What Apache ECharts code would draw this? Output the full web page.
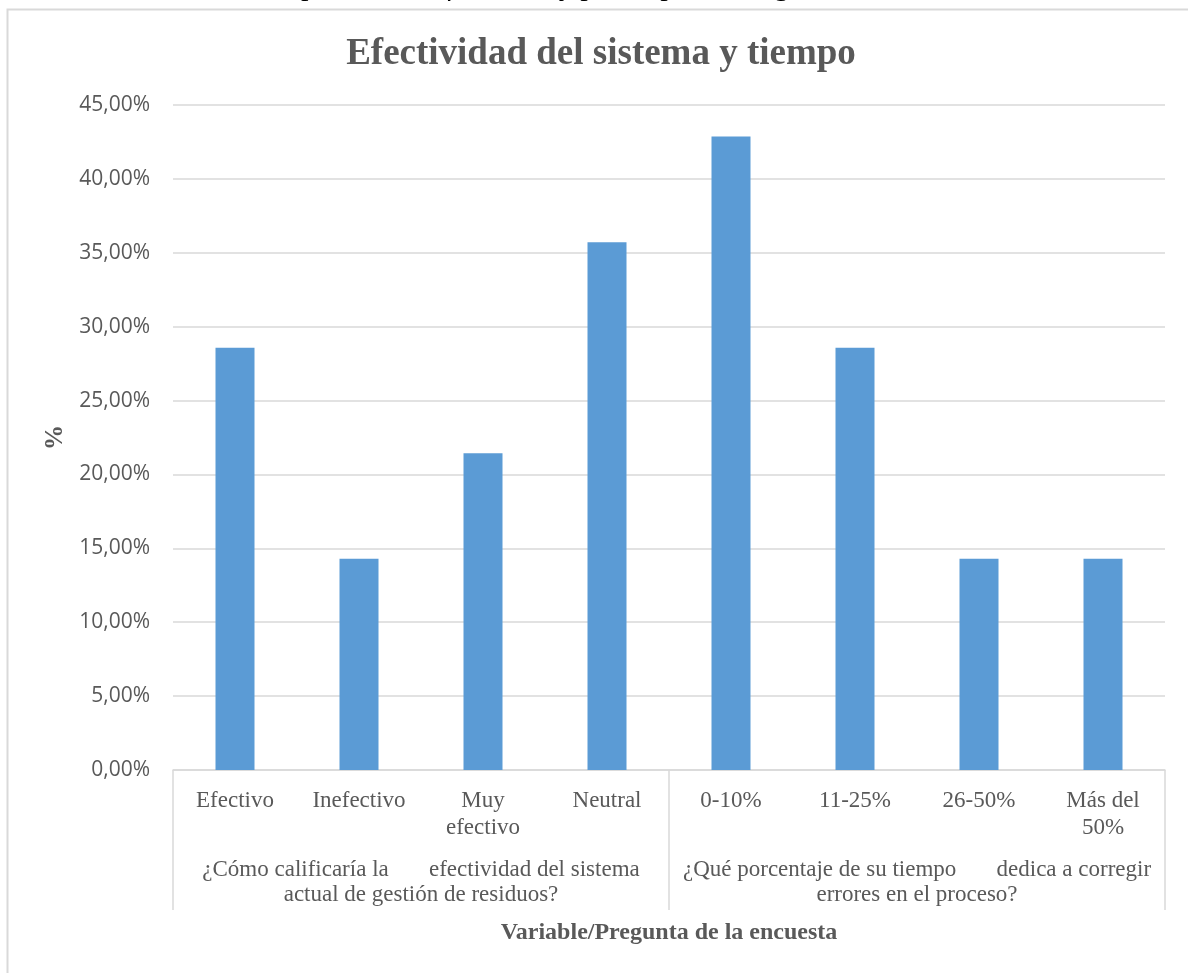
<!DOCTYPE html>
<html>
<head>
<meta charset="utf-8">
<script src="https://cdn.jsdelivr.net/npm/echarts@6/dist/echarts.min.js"></script>
<style>
  html, body { margin: 0; padding: 0; background: #ffffff; }
  #chart { width: 1188px; height: 973px; }
</style>
</head>
<body>
<div id="chart"></div>
<script>
// Survey answers (first level of the category axis)
const categories = ['Efectivo', 'Inefectivo', 'Muy\nefectivo', 'Neutral', '0-10%', '11-25%', '26-50%', 'Más del\n50%'];
// Share of respondents per answer, in %
const values = [28.57, 14.29, 21.43, 35.71, 42.86, 28.57, 14.29, 14.29];
// Survey questions (second level of the category axis)
const questions = [
  '¿Cómo calificaría la       efectividad del sistema\nactual de gestión de residuos?',
  '¿Qué porcentaje de su tiempo       dedica a corregir\nerrores en el proceso?'
];
// Value axis range and step
const yMin = 0, yMax = 45, yStep = 5;

const grey = '#595959';
const gridGrey = '#d9d9d9';
const serif = '"Liberation Serif", "Times New Roman", serif';
const sans = '"Open Sans", "Noto Sans", sans-serif';

const chart = echarts.init(document.getElementById('chart'));
chart.setOption({
  animation: false,
  backgroundColor: '#ffffff',
  title: {
    text: 'Efectividad del sistema y tiempo',
    left: 596,
    textAlign: 'center',
    top: 31,
    textStyle: { fontFamily: serif, fontWeight: 'bold', fontSize: 37, color: grey }
  },
  graphic: [
    {
      type: 'rect',
      z: -10,
      silent: true,
      shape: { x: 7.5, y: 9.5, width: 1300, height: 1100 },
      style: { fill: 'none', stroke: gridGrey, lineWidth: 2 }
    },
    {
      type: 'text',
      silent: true,
      x: -70,
      y: -28,
      style: {
        text: 'Estadísticas de variables de impacto total, formatos y participación según resultados de la encuesta',
        font: 'italic 30px ' + serif,
        fill: '#000000'
      }
    }
  ],
  grid: { left: 173, right: 23, top: 105, bottom: 203, containLabel: false },
  xAxis: [
    {
      type: 'category',
      data: categories,
      axisLine: { show: true, lineStyle: { color: gridGrey, width: 1.5 } },
      axisTick: { show: false },
      axisLabel: {
        interval: 0,
        margin: 17,
        fontFamily: serif,
        fontSize: 23,
        lineHeight: 27,
        color: grey
      }
    },
    {
      type: 'category',
      position: 'bottom',
      data: questions,
      axisLine: { show: false },
      axisTick: { show: true, length: 140, interval: 0, lineStyle: { color: gridGrey, width: 1.5 } },
      axisLabel: {
        interval: 0,
        margin: 87,
        fontFamily: serif,
        fontSize: 23,
        lineHeight: 25,
        color: grey,
        align: 'center'
      },
      name: 'Variable/Pregunta de la encuesta',
      nameLocation: 'middle',
      nameGap: 151,
      nameTextStyle: { fontFamily: serif, fontWeight: 'bold', fontSize: 24, color: grey }
    }
  ],
  yAxis: {
    type: 'value',
    min: yMin,
    max: yMax,
    interval: yStep,
    axisLine: { show: false },
    axisTick: { show: false },
    splitLine: { lineStyle: { color: gridGrey, width: 1.5 } },
    axisLabel: {
      margin: 23,
      fontFamily: sans,
      fontSize: 21,
      color: grey,
      formatter: v => v.toFixed(2).replace('.', ',') + '%'
    },
    name: '%',
    nameLocation: 'middle',
    nameRotate: 90,
    nameGap: 95,
    nameTextStyle: { fontFamily: serif, fontWeight: 'bold', fontSize: 25, color: grey }
  },
  series: [{
    type: 'bar',
    xAxisIndex: 0,
    data: values,
    barWidth: 39,
    itemStyle: { color: '#5b9bd5' }
  }]
});
</script>
</body>
</html>
